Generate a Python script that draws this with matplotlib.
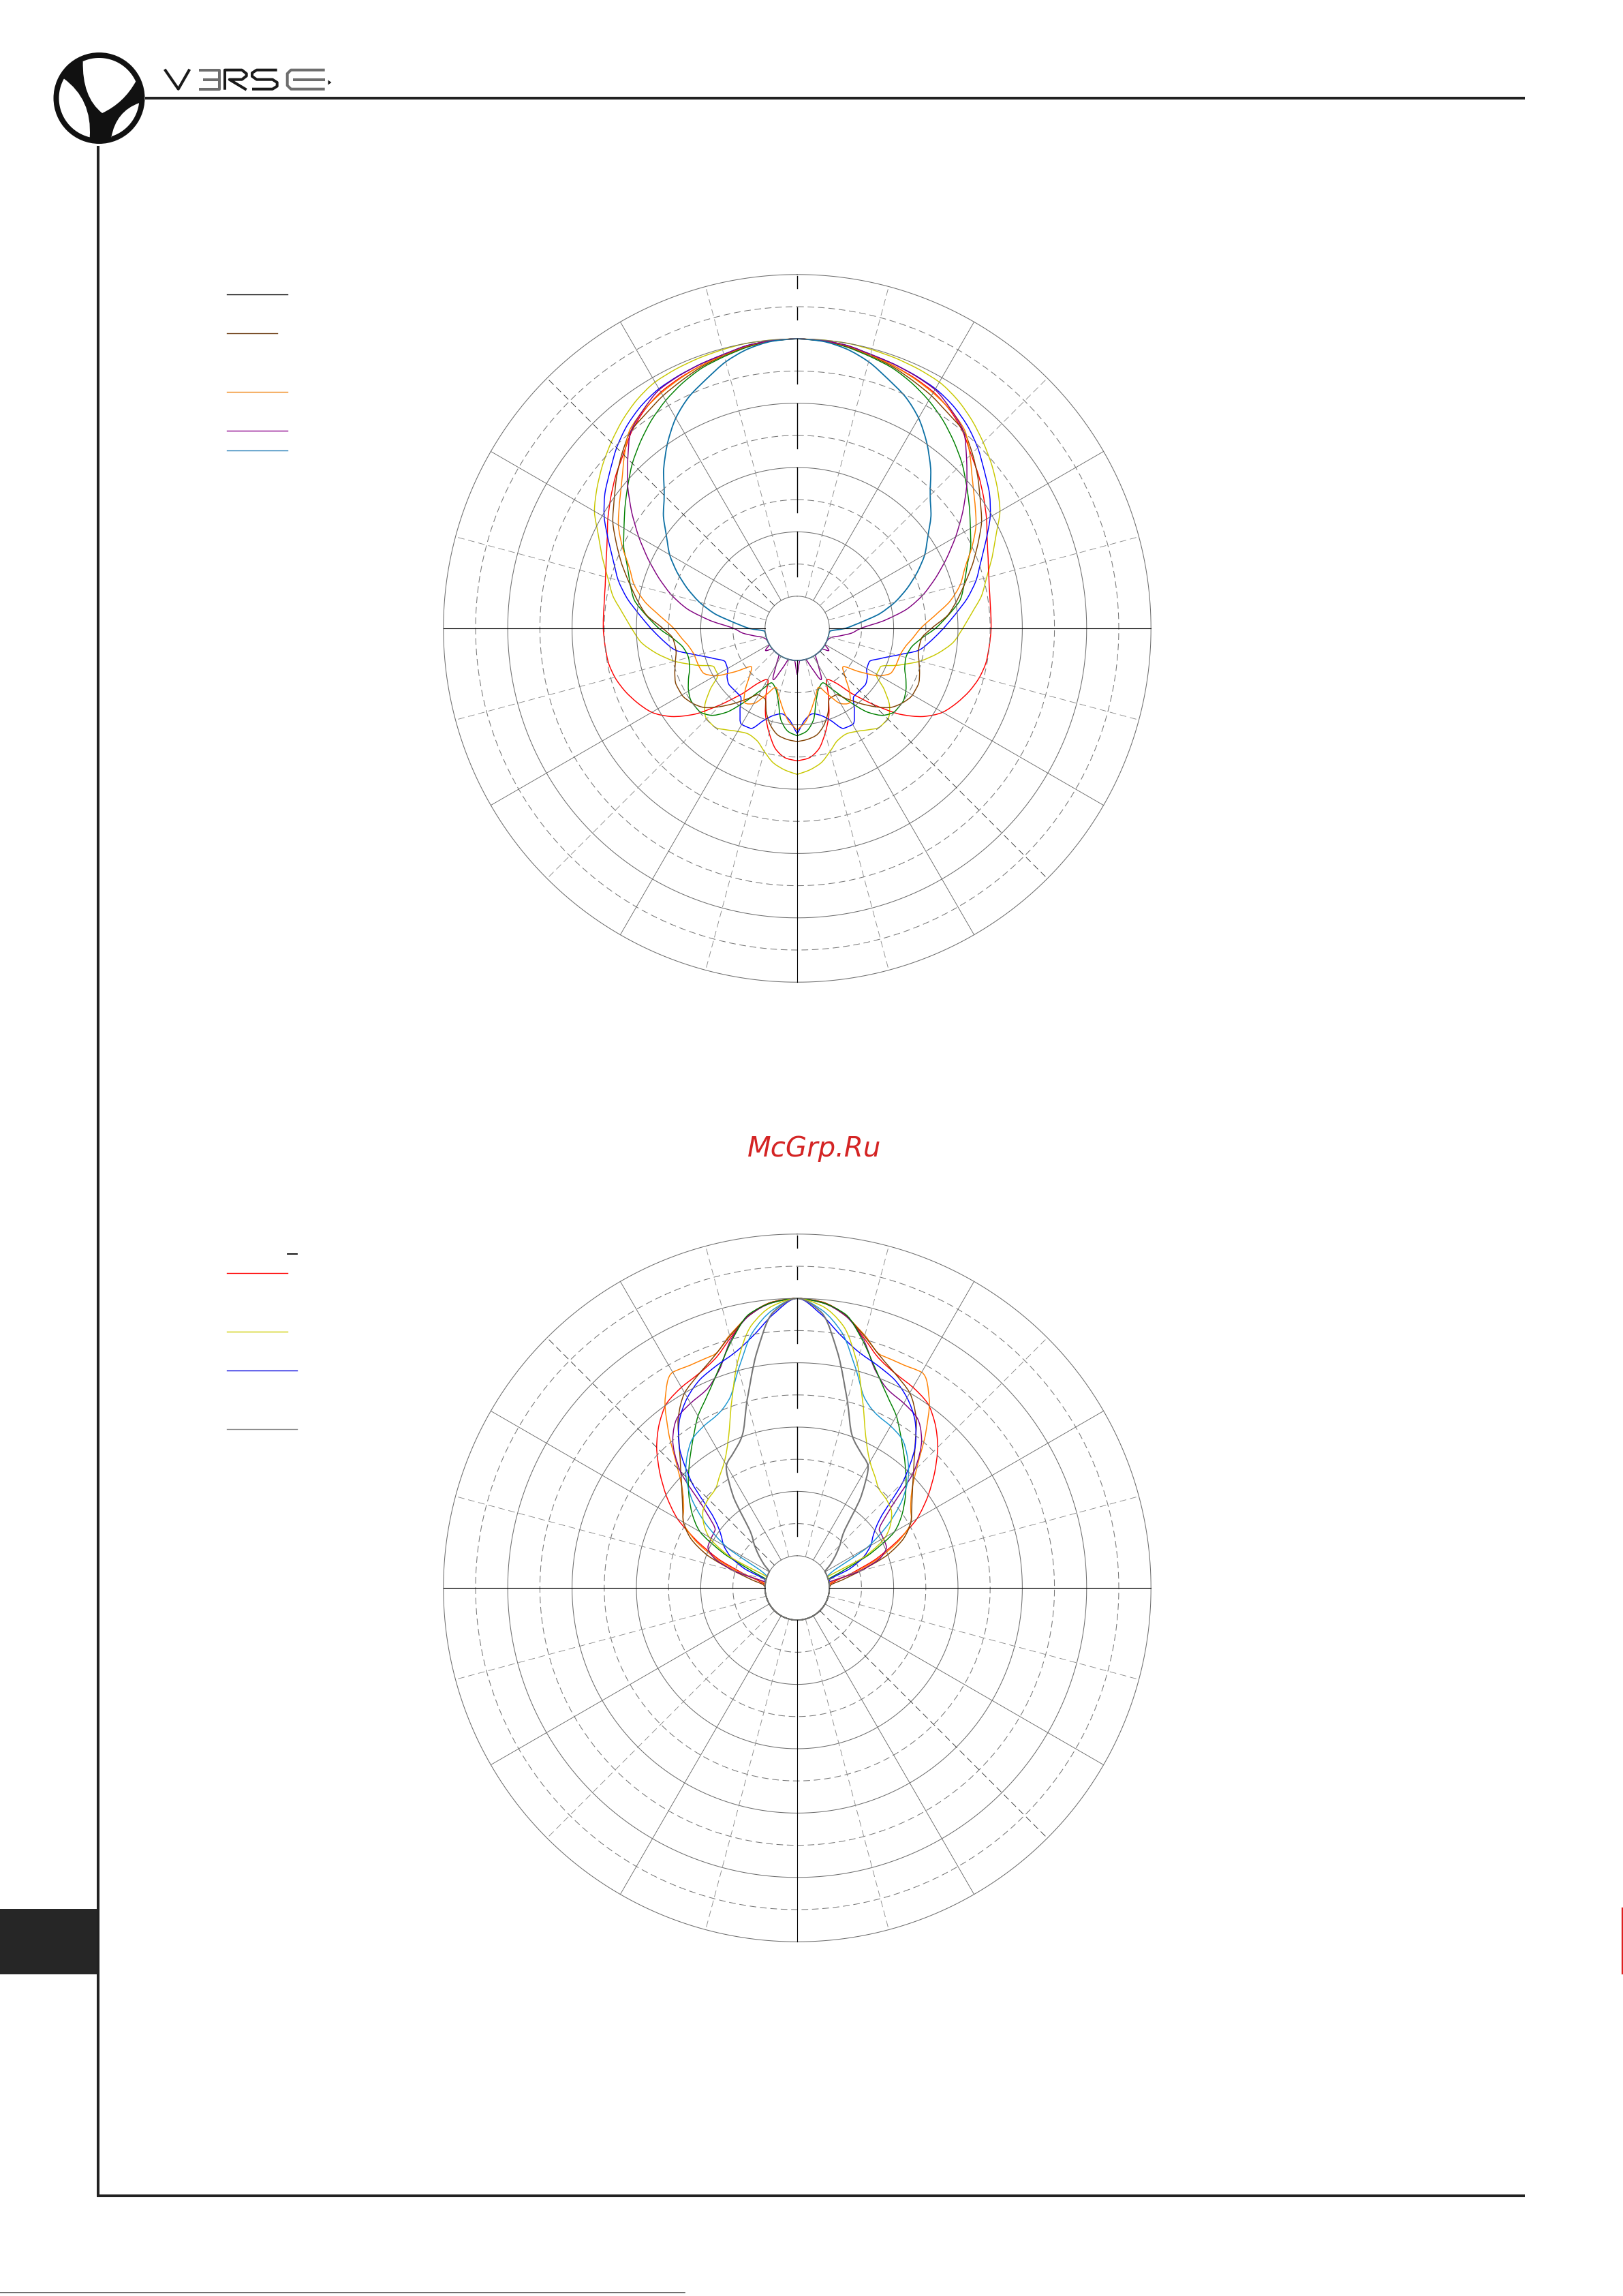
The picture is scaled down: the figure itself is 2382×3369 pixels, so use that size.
import numpy as np
import matplotlib
matplotlib.use('Agg')
import matplotlib.pyplot as plt
from matplotlib.path import Path
from matplotlib.patches import PathPatch, Circle, Rectangle

plt.rcParams['lines.scale_dashes'] = False

# ---- data: polar levels (ring units, 1 = inner circle, 11 = outer ring), 0..180 deg, mirrored
angles = np.arange(0, 181, 5)

top_names = ['yellow', 'red', 'blue', 'green', 'brown', 'orange', 'purple', 'teal']
top_colors = ['#c8c800', '#ff0000', '#0000ff', '#008000', '#804000', '#ff8000', '#800080', '#0b6fa4']
top_widths = [1.05, 1.05, 1.05, 1.05, 1.05, 1.05, 1.05, 1.3]
top_yellow = [9.0, 9.0, 9.0, 8.97, 8.94, 8.9, 8.84, 8.68, 8.45, 8.18, 7.9, 7.6, 7.28, 6.82, 6.45, 6.1, 5.82, 5.45, 5.15,
              4.88, 4.45, 3.95, 3.35, 2.85, 2.85, 3.3, 3.75, 3.98, 4.0, 3.85, 3.7, 3.62, 3.7, 3.96, 4.25, 4.42, 4.54]
top_red = [9.0, 8.98, 8.92, 8.8, 8.7, 8.6, 8.48, 8.28, 8.0, 7.65, 7.37, 7.08, 6.8, 6.52, 6.32, 6.17, 6.08, 6.04, 6.03,
           6.0, 5.97, 5.87, 5.7, 5.48, 5.22, 4.78, 4.15, 3.35, 2.65, 2.06, 1.84, 2.3, 2.88, 3.37, 3.82, 4.05, 4.12]
top_blue = [9.0, 8.98, 8.93, 8.82, 8.75, 8.68, 8.6, 8.45, 8.23, 7.94, 7.6, 7.3, 6.93, 6.48, 6.08, 5.76, 5.37, 4.93, 4.55,
            4.2, 3.86, 3.22, 2.75, 2.47, 2.5, 2.66, 2.75, 2.74, 2.75, 3.1, 3.45, 3.43, 3.05, 2.8, 2.7, 2.85, 3.27]
top_green = [9.0, 8.97, 8.88, 8.75, 8.62, 8.42, 8.18, 7.9, 7.58, 7.25, 6.88, 6.54, 6.22, 5.95, 5.62, 5.38, 5.15, 4.72, 4.3,
             3.85, 3.58, 3.5, 3.56, 3.73, 3.9, 4.0, 3.99, 3.82, 3.4, 2.75, 2.2, 1.87, 1.98, 2.3, 2.9, 3.22, 3.34]
top_brown = [9.0, 8.97, 8.9, 8.78, 8.66, 8.5, 8.35, 8.17, 8.03, 7.7, 7.33, 6.95, 6.62, 6.2, 5.8, 5.4, 5.05, 4.7, 4.18,
             3.87, 3.83, 3.92, 4.05, 4.15, 4.14, 4.02, 3.82, 3.45, 3.05, 2.67, 2.39, 2.4, 2.8, 3.15, 3.38, 3.47, 3.52]
top_orange = [9.0, 8.98, 8.92, 8.8, 8.7, 8.58, 8.45, 8.3, 8.08, 7.6, 7.12, 6.75, 6.42, 6.0, 5.56, 5.25, 4.82, 4.27, 3.84,
              3.6, 3.4, 3.3, 3.28, 3.24, 2.95, 2.35, 1.86, 2.1, 2.52, 2.83, 2.7, 2.28, 1.95, 2.2, 2.55, 2.92, 3.16]
top_purple = [9.0, 8.98, 8.93, 8.82, 8.75, 8.67, 8.57, 8.32, 8.03, 7.45, 6.88, 6.28, 5.69, 5.12, 4.58, 4.06, 3.47, 2.7, 1.98,
              1.7, 1.35, 1.1, 1.02, 1.0, 1.0, 1.2, 1.0, 1.0, 1.0, 1.0, 1.3, 1.76, 1.3, 1.0, 1.0, 1.0, 1.44]
top_teal = [9.0, 8.96, 8.82, 8.58, 8.25, 7.95, 7.55, 7.03, 6.46, 5.85, 5.43, 4.96, 4.58, 4.12, 3.64, 3.15, 2.6, 1.95, 1.5,
            1.02, 1.0, 1.0, 1.0, 1.0, 1.0, 1.0, 1.0, 1.0, 1.0, 1.0, 1.0, 1.0, 1.0, 1.0, 1.0, 1.0, 1.0]

bot_names = ['red', 'orange', 'brown', 'purple', 'green', 'blue', 'lightblue', 'yellow', 'gray']
bot_colors = ['#ff0000', '#ff8000', '#804000', '#800080', '#008000', '#0000ff', '#1996d2', '#cccc00', '#767676']
bot_widths = [1.05, 1.05, 1.05, 1.05, 1.05, 1.05, 1.05, 1.05, 1.5]
bot_red = [9.0, 8.92, 8.62, 8.04, 7.55, 7.32, 7.2, 7.04, 6.67, 6.18, 5.58, 4.96, 4.3, 3.43, 2.59, 1.75, 1.2, 1.0, 1.0,
           1.0, 1.0, 1.0, 1.0, 1.0, 1.0, 1.0, 1.0, 1.0, 1.0, 1.0, 1.0, 1.0, 1.0, 1.0, 1.0, 1.0, 1.0]
bot_orange = [9.0, 8.92, 8.6, 8.13, 7.69, 7.68, 7.74, 7.16, 6.2, 5.26, 4.65, 4.31, 4.09, 3.51, 2.71, 1.88, 1.1, 1.0, 1.0,
              1.0, 1.0, 1.0, 1.0, 1.0, 1.0, 1.0, 1.0, 1.0, 1.0, 1.0, 1.0, 1.0, 1.0, 1.0, 1.0, 1.0, 1.0]
bot_brown = [9.0, 8.92, 8.6, 8.1, 7.63, 7.3, 7.0, 6.45, 5.7, 5.12, 4.68, 4.35, 4.08, 3.66, 2.98, 2.05, 1.42, 1.05, 1.0,
             1.0, 1.0, 1.0, 1.0, 1.0, 1.0, 1.0, 1.0, 1.0, 1.0, 1.0, 1.0, 1.0, 1.0, 1.0, 1.0, 1.0, 1.0]
bot_purple = [9.0, 8.9, 8.6, 7.98, 7.16, 6.76, 6.63, 6.48, 6.02, 5.15, 3.73, 3.12, 3.09, 3.06, 2.77, 2.02, 1.0, 1.0, 1.0,
              1.0, 1.0, 1.0, 1.0, 1.0, 1.0, 1.0, 1.0, 1.0, 1.0, 1.0, 1.0, 1.0, 1.0, 1.0, 1.0, 1.0, 1.0]
bot_green = [9.0, 8.9, 8.64, 7.93, 7.19, 6.61, 6.17, 5.65, 5.2, 4.79, 4.39, 3.98, 3.49, 2.5, 1.45, 1.0, 1.0, 1.0, 1.0,
             1.0, 1.0, 1.0, 1.0, 1.0, 1.0, 1.0, 1.0, 1.0, 1.0, 1.0, 1.0, 1.0, 1.0, 1.0, 1.0, 1.0, 1.0]
bot_blue = [9.0, 8.54, 7.95, 7.56, 7.35, 7.15, 6.83, 6.38, 5.7, 4.64, 3.38, 2.9, 2.64, 2.28, 1.74, 1.06, 1.0, 1.0, 1.0,
            1.0, 1.0, 1.0, 1.0, 1.0, 1.0, 1.0, 1.0, 1.0, 1.0, 1.0, 1.0, 1.0, 1.0, 1.0, 1.0, 1.0, 1.0]
bot_lightblue = [9.0, 8.68, 8.05, 7.05, 6.22, 5.92, 5.81, 5.67, 5.33, 4.89, 4.27, 3.47, 2.52, 1.22, 1.0, 1.0, 1.0, 1.0, 1.0,
                 1.0, 1.0, 1.0, 1.0, 1.0, 1.0, 1.0, 1.0, 1.0, 1.0, 1.0, 1.0, 1.0, 1.0, 1.0, 1.0, 1.0, 1.0]
bot_yellow = [9.0, 8.8, 8.27, 7.22, 6.01, 5.08, 4.53, 4.22, 3.98, 3.91, 3.81, 3.56, 3.17, 2.35, 1.02, 1.0, 1.0, 1.0, 1.0,
              1.0, 1.0, 1.0, 1.0, 1.0, 1.0, 1.0, 1.0, 1.0, 1.0, 1.0, 1.0, 1.0, 1.0, 1.0, 1.0, 1.0, 1.0]
bot_gray = [9.0, 8.6, 7.36, 6.03, 5.02, 4.66, 4.4, 3.46, 2.25, 1.88, 1.55, 1.25, 1.0, 1.0, 1.0, 1.0, 1.0, 1.0, 1.0,
            1.0, 1.0, 1.0, 1.0, 1.0, 1.0, 1.0, 1.0, 1.0, 1.0, 1.0, 1.0, 1.0, 1.0, 1.0, 1.0, 1.0, 1.0]

top_series = [top_yellow, top_red, top_blue, top_green, top_brown, top_orange, top_purple, top_teal]
bot_series = [bot_red, bot_orange, bot_brown, bot_purple, bot_green, bot_blue, bot_lightblue, bot_yellow, bot_gray]

# legend swatches (labels are missing in the source)
top_legend_colors = ['#000000', '#6b3a10', '#f08a1e', '#8b008b', '#1e7ab4']
bot_legend_colors = ['#ff0000', '#cccc00', '#0000dd', '#8a8a8a']

W, H = 2382, 3369
UNIT = 47.2
fig = plt.figure(figsize=(W / 100, H / 100), dpi=100)

page = fig.add_axes([0, 0, 1, 1])
page.set_xlim(0, W)
page.set_ylim(H, 0)
page.axis('off')

# ---- page frame
dark = '#222222'
page.plot([213, 2238], [143.5, 143.5], color=dark, lw=2.9, solid_capstyle='butt')
page.plot([144, 144], [214, 3222], color=dark, lw=2.9, solid_capstyle='butt')
page.plot([142, 2238], [3222, 3222], color=dark, lw=2.9, solid_capstyle='butt')
page.add_patch(Rectangle((0, 2801), 142, 96, color='#262626', lw=0))
page.plot([2381, 2381], [2800, 2896], color='#e02020', lw=1.6)
page.plot([0, 1005], [3364, 3364], color='#555555', lw=1.2)

# ---- logo
cx, cy = 145.5, 144.0
page.add_patch(Circle((cx, cy), 67, color='#111111', lw=0))


def arc(a0, a1, r=59, n=40):
    a = np.deg2rad(np.linspace(a0, a1, n))
    return [(cx + r * np.cos(t), cy - r * np.sin(t)) for t in a]


def region(a0, a1, tail):
    pts = arc(a0, a1)
    verts = pts + [p for p in tail]
    codes = [Path.MOVETO] + [Path.LINETO] * (len(pts) - 1) + [Path.CURVE3] * len(tail)
    verts.append(pts[0])
    codes.append(Path.CLOSEPOLY)
    return PathPatch(Path(verts, codes), facecolor='white', edgecolor='none')


page.add_patch(region(113.5, 24.4, [(181.9, 151), (150, 166), (120.2, 142.4), (121.7, 89.3)]))
page.add_patch(region(150.9, 256.5, [(135.5, 145.7), (93.3, 115)]))
page.add_patch(region(-72.9, -7, [(170.2, 163.3), (163.3, 201.7)]))

# ---- VERSE wordmark
blk, gry = '#1a1a1a', '#6e6e6e'
lk = dict(lw=2.9, solid_capstyle='butt', solid_joinstyle='round')
page.plot([241.7, 261.7, 278.3], [101.7, 130.7, 101.7], color=blk, **lk)
page.plot([291.7, 321.7, 321.7, 291.7], [102.7, 102.7, 130.7, 130.7], color=gry, **lk)
page.plot([298.3, 321.7], [116.7, 116.7], color=gry, **lk)
page.plot([330, 330, 355, 361.7, 361.7, 355, 336.7, 361.7],
          [131.7, 102.7, 102.7, 108, 111.5, 116.7, 116.7, 131.7], color=blk, **lk)
page.plot([406.7, 376.7, 370, 370, 376.7, 400, 406.7, 406.7, 400, 370],
          [102.7, 102.7, 107, 112, 116.7, 116.7, 121, 126.5, 130.7, 130.7], color=blk, **lk)
page.plot([476.7, 427, 421.7, 421.7, 427, 476.7], [102.7, 102.7, 108, 125.5, 130.7, 130.7], color=gry, **lk)
page.plot([430, 476.7], [116.7, 116.7], color=gry, **lk)
page.add_patch(plt.Polygon([(481.5, 117.5), (481.5, 124.5), (486.5, 121)], color=blk, lw=0))

# ---- watermark
page.text(1195.5, 1697, 'McGrp.Ru', fontsize=29, style='italic', color='#d42424',
          ha='center', va='baseline', family='DejaVu Sans')

# ---- legend swatches
for y, x1, c in zip([432, 489, 575, 632, 661], [422, 407, 422, 422, 422], top_legend_colors):
    page.plot([333, x1], [y, y], color=c, lw=1.0)
for y, x1, c in zip([1868, 1954, 2011, 2097], [422, 422, 436, 436], bot_legend_colors):
    page.plot([333, x1], [y, y], color=c, lw=1.0)
page.plot([422, 436], [1840, 1840], color='#000000', lw=1.3)


def smooth_polar_path(theta_deg, r):
    # monotone cubic (pchip-style tangents) drawn as bezier segments in (theta, r) data space
    th = np.deg2rad(theta_deg)
    r = np.asarray(r, dtype=float)
    h = th[1] - th[0]
    d = np.diff(r) / h
    m = np.zeros_like(r)
    m[0], m[-1] = d[0], d[-1]
    for k in range(1, len(r) - 1):
        if d[k - 1] * d[k] > 0:
            m[k] = 2 * d[k - 1] * d[k] / (d[k - 1] + d[k])
    verts = [(th[0], r[0])]
    codes = [Path.MOVETO]
    for k in range(len(r) - 1):
        verts += [(th[k] + h / 3, r[k] + m[k] * h / 3),
                  (th[k + 1] - h / 3, r[k + 1] - m[k + 1] * h / 3),
                  (th[k + 1], r[k + 1])]
        codes += [Path.CURVE4] * 3
    return Path(verts, codes)


def polar_chart(pcx, pcy, series, colors, widths):
    R = 11 * UNIT
    ax = fig.add_axes([(pcx - R) / W, 1 - (pcy + R) / H, 2 * R / W, 2 * R / H], projection='polar')
    ax.set_theta_zero_location('N')
    ax.set_theta_direction(-1)
    ax.set_ylim(0, 11)
    ax.axis('off')
    t = np.linspace(0, 2 * np.pi, 721)
    for k in range(1, 12):
        if k % 2:
            ax.plot(t, np.full_like(t, k), color='#6e6e6e', lw=0.75, clip_on=False)
        else:
            ax.plot(t, np.full_like(t, k), color='#777777', lw=0.75, dashes=(7, 4), clip_on=False)
    for a in range(0, 360, 15):
        th = np.deg2rad(a)
        if a == 0:
            for r0, r1 in [(10.58, 10.96), (9.59, 9.97), (7.6, 9.0), (5.6, 7.0), (3.6, 5.0), (1.6, 3.0)]:
                ax.plot([th, th], [r0, r1], color='black', lw=1.0, clip_on=False)
        elif a in (90, 180, 270):
            ax.plot([th, th], [1, 11], color='black', lw=0.8, clip_on=False)
        elif a % 30 == 0:
            ax.plot([th, th], [1, 11], color='#6a6a6a', lw=0.65, clip_on=False)
        else:
            col = '#333333' if a in (135, 315) else '#8c8c8c'
            ax.plot([th, th], [1, 11], color=col, lw=0.65, dashes=(7, 4), clip_on=False)
    full_ang = np.concatenate([-angles[::-1], angles[1:]])
    for vals, c, w in zip(series, colors, widths):
        v = np.asarray(vals)
        path = smooth_polar_path(full_ang, np.concatenate([v[::-1], v[1:]]))
        ax.add_patch(PathPatch(path, fill=False, edgecolor=c, lw=w, transform=ax.transData, clip_on=False))
    return ax


polar_chart(1170, 922, top_series, top_colors, top_widths)
polar_chart(1170, 2330, bot_series, bot_colors, bot_widths)

fig.savefig('out.png', dpi=100, facecolor='white')
